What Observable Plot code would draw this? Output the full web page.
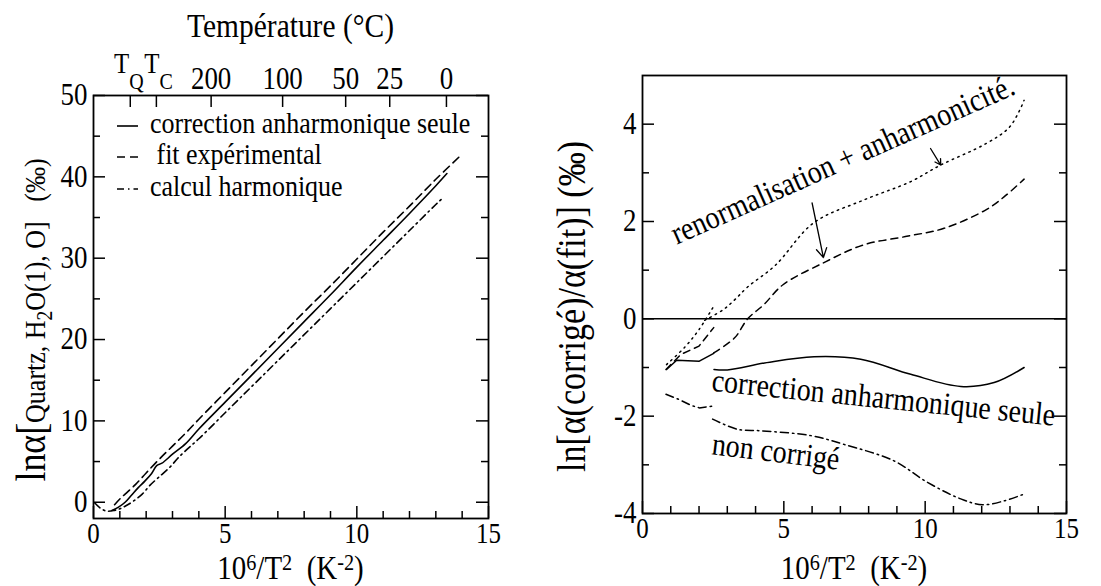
<!DOCTYPE html>
<html><head><meta charset="utf-8">
<script src="https://cdn.jsdelivr.net/npm/d3@7"></script>
<script src="https://cdn.jsdelivr.net/npm/@observablehq/plot@0.6"></script>
<style>
body{margin:0;background:#fff;}
#wrap{position:relative;width:1101px;height:586px;overflow:hidden;background:#fff;}
#left{position:absolute;left:0;top:0;width:550px;height:586px;}
#right{position:absolute;left:550px;top:0;width:551px;height:586px;}
</style></head><body>
<div id="wrap"><div id="left"></div><div id="right"></div></div>
<script>
// ---------- LEFT PANEL DATA (x = 10^6/T^2, y = ln alpha, per mil) ----------
const leftSolidX  = [0.70,0.95,1.20,1.45,1.70,1.95,2.20,2.40,2.60,3.00,3.50,4.00,5,6,7,8,9,10,11,12,13,13.42];
const leftSolidY  = [-1.0,-0.6,0.0,0.9,1.8,2.6,3.5,4.5,4.8,5.9,7.2,9.0,12.3,15.6,18.9,22.2,25.5,28.9,32.2,35.5,38.9,40.4];
const leftDashX   = [0.80,1.00,1.20,1.60,2.00,2.50,3.00,3.50,4.00,5,6,7,8,9,10,11,12,13,14];
const leftDashY   = [-0.3,0.4,1.0,2.2,3.6,5.3,6.9,8.5,10.2,13.5,16.8,20.1,23.4,26.6,29.9,33.2,36.4,39.7,42.8];
const leftDotDashX = [0.05,0.25,0.50,0.80,1.00,1.20,1.50,1.85,2.15,2.45,2.90,3.20,3.55,4.00,5,6,7,8,9,10,11,12,13,13.23];
const leftDotDashY = [-0.1,-0.7,-1.1,-1.0,-0.8,-0.5,0.1,1.0,2.1,3.0,4.3,5.4,6.5,7.8,11.0,14.2,17.4,20.6,23.8,27.0,30.2,33.4,36.6,37.3];
const legendNames = ["correction anharmonique seule", " fit expérimental", "calcul harmonique"];
const topTemps   = [573, 374, 200, 100, 50, 25, 0];
const topMain    = ["T", "T", "200", "100", "50", "25", "0"];
const topSub     = ["Q", "C", "", "", "", "", ""];
const leftXTicks = [0, 5, 10, 15];
const leftXMinor = [1,2,3,4,6,7,8,9,11,12,13,14];
const leftYTicks = [0, 10, 20, 30, 40, 50];
const leftYMinor = [5, 15, 25, 35, 45];

// ---------- RIGHT PANEL DATA ----------
const rSolid1X = [0.85,1.21,2.01,2.52];
const rSolid1Y = [-1.04,-0.85,-0.87,-0.71];
const rSolid2X = [2.53,3.0,4.4,6.07,7.72,9.49,11.26,12.44,13.5];
const rSolid2Y = [-1.04,-1.05,-0.9,-0.78,-0.83,-1.14,-1.39,-1.31,-1.0];
const rDash1X = [0.83,1.36,2.0,2.52];
const rDash1Y = [-1.04,-0.73,-0.56,-0.18];
const rDash2X = [2.52,3.26,3.72,4.29,4.97,6.4,7.82,9.3,10.67,12.15,12.8,13.5];
const rDash2Y = [-0.7,-0.39,0.0,0.29,0.7,1.15,1.52,1.69,1.86,2.24,2.51,2.87];
const rDot1X = [0.85,1.5,2.0,2.52];
const rDot1Y = [-0.94,-0.58,-0.22,0.26];
const rDot2X = [2.2,2.86,3.26,3.71,4.7,6.05,7.82,9.49,10.55,12.15,13.0,13.5];
const rDot2Y = [-0.03,0.19,0.39,0.65,1.1,1.97,2.44,2.82,3.16,3.6,3.95,4.49];
const rDD1X = [0.83,1.3,1.73,2.01,2.52];
const rDD1Y = [-1.55,-1.66,-1.78,-1.83,-1.79];
const rDD2X = [2.48,3.36,4.19,5.96,7.13,8.9,10.08,11.26,12.03,12.8,13.5];
const rDD2Y = [-2.06,-2.27,-2.3,-2.4,-2.58,-2.92,-3.36,-3.7,-3.82,-3.74,-3.6];
const annText = ["renormalisation + anharmonicité.", "correction anharmonique seule", "non corrigé"];
const annX = [1.21, 2.42, 2.42];
const annY = [1.52, -1.48, -2.78];
const annRot = [-24, 5.8, 7];
const arrowX1 = [6.0, 10.19], arrowY1 = [2.38, 3.5], arrowX2 = [6.4, 10.55], arrowY2 = [1.26, 3.16];
const rightXTicks = [0, 5, 10, 15];
const rightXMinor = [1,2,3,4,6,7,8,9,11,12,13,14];
const rightYTicks = [-4, -2, 0, 2, 4];
const rightYMinor = [-3, -1, 1, 3];

// ---------- helpers ----------
const FONT = "'Liberation Serif','Times New Roman',serif";
const K = 1.15;                 // reference glyphs are taller than wide Times: enlarge, then squeeze along the line
const fs = v => +(v * K).toFixed(1);
const pts = (xs, ys) => xs.map((x, i) => ({x, y: ys[i]}));
function rich(svg, x, y, rotate, size, parts, anchor = "middle") {
  const t = d3.select(svg).append("text")
    .attr("transform", `translate(${x},${y}) rotate(${rotate})`)
    .attr("text-anchor", anchor).attr("font-family", FONT).attr("font-size", size)
    .attr("fill", "black").style("white-space", "pre");
  let cur = 0;
  for (const [s, scale, shift] of parts) {
    t.append("tspan").attr("font-size", size * scale).attr("dy", cur - shift).text(s);
    cur = shift;
  }
}
function squeeze(svg) {
  d3.select(svg).selectAll("text").each(function() {
    const el = d3.select(this);
    let tr = el.attr("transform") || "";
    const xa = el.attr("x");
    if (xa != null && xa !== "" && !isNaN(+xa)) { tr += ` translate(${+xa},0)`; el.attr("x", null); }
    el.attr("transform", tr + ` scale(${(1 / K).toFixed(4)},1)`);
  });
}
function tickMarks(xMaj, xMin, yMaj, yMin, fw, fh) {
  return [
    Plot.ruleX(xMaj, {x: d => d, insetTop: fh - 12, strokeWidth: 1.5}),
    Plot.ruleX(xMin, {x: d => d, insetTop: fh - 7, strokeWidth: 1.5}),
    Plot.ruleY(yMaj, {y: d => d, insetRight: fw - 12, strokeWidth: 1.5}),
    Plot.ruleY(yMin, {y: d => d, insetRight: fw - 7, strokeWidth: 1.5}),
    Plot.ruleY(yMaj, {y: d => d, insetLeft: fw - 12, strokeWidth: 1.5}),
    Plot.ruleY(yMin, {y: d => d, insetLeft: fw - 7, strokeWidth: 1.5})
  ];
}
const dashed = "8,5", dashdot = "7,4,1.5,4", dotted = "1.5,4.5";
const xTitle = [["10",1,0],["6",0.7,9],["/T",1,0],["2",0.7,9],["  (K",1,0],["-2",0.7,9],[")",1,0]];

// ---------- LEFT PLOT ----------
const LW = 550, LH = 586, Lm = {l: 93, r: 62, t: 95, b: 68};
const Lfw = LW - Lm.l - Lm.r, Lfh = LH - Lm.t - Lm.b;
const topData = topTemps.map((t, i) => ({x: 1e6 / ((t + 273.15) ** 2), main: topMain[i], sub: topSub[i]}));
const symbolLabel = (d, shift) => [
  Plot.text([d], {x: "x", frameAnchor: "top", text: "main", lineAnchor: "bottom", textAnchor: "end", dx: shift, dy: -23, fontSize: fs(25)}),
  Plot.text([d], {x: "x", frameAnchor: "top", text: "sub", lineAnchor: "bottom", textAnchor: "start", dx: shift, dy: -7, fontSize: fs(20)})
];
const left = Plot.plot({
  width: LW, height: LH,
  marginLeft: Lm.l, marginRight: Lm.r, marginTop: Lm.t, marginBottom: Lm.b,
  x: {domain: [0, 15]}, y: {domain: [-2, 50]},
  style: {fontFamily: FONT, fontSize: fs(27) + "px", color: "black", background: "white", overflow: "visible"},
  marks: [
    ...tickMarks(leftXTicks, leftXMinor, leftYTicks, leftYMinor, Lfw, Lfh),
    Plot.ruleX(topData, {x: "x", insetBottom: Lfh - 12, strokeWidth: 1.5}),
    Plot.line(pts(leftSolidX, leftSolidY), {x: "x", y: "y", stroke: "black", strokeWidth: 1.6, curve: "catmull-rom"}),
    Plot.line(pts(leftDashX, leftDashY), {x: "x", y: "y", stroke: "black", strokeWidth: 1.6, strokeDasharray: dashed, curve: "catmull-rom"}),
    Plot.line(pts(leftDotDashX, leftDotDashY), {x: "x", y: "y", stroke: "black", strokeWidth: 1.6, strokeDasharray: dashdot, curve: "catmull-rom"}),
    Plot.axisX(leftXTicks, {tickSize: 0, tickPadding: 4, fontSize: fs(25), tickFormat: d => String(d), label: null}),
    Plot.axisY(leftYTicks, {tickSize: 0, tickPadding: 6, tickFormat: d => String(d), label: null}),
    Plot.text(topData.filter(d => d.sub === ""), {x: "x", frameAnchor: "top", text: "main", lineAnchor: "bottom", dy: -7, fontSize: fs(27)}),
    ...symbolLabel(topData[0], -1),
    ...symbolLabel(topData[1], 3),
    Plot.frame({stroke: "black", strokeWidth: 1.8})
  ]
});
document.getElementById("left").appendChild(left);
rich(left, 290.5, 37, 0, fs(29.5), [["Température (°C)", 1, 0]]);
rich(left, 290.5, 579, 0, fs(29), xTitle);
rich(left, 45, 320, -90, fs(26), [["lnα[",1.38,0],["Quartz, H",1,0],["2",0.75,-7],["O(1), O]   (‰)",1,0]]);
// legend
const legDash = [null, dashed, dashdot];
const legY = [126, 157, 189];
legendNames.forEach((name, i) => {
  const g = d3.select(left);
  g.append("line").attr("x1", 117).attr("x2", 138).attr("y1", legY[i]).attr("y2", legY[i])
    .attr("stroke", "black").attr("stroke-width", 1.6).attr("stroke-dasharray", legDash[i]);
  g.append("text").attr("x", 150).attr("y", legY[i] + 7).attr("text-anchor", "start")
    .attr("font-family", FONT).attr("font-size", fs(26))
    .style("white-space", "pre").attr("fill", "black").text(name);
});
squeeze(left);

// ---------- RIGHT PLOT ----------
const RW = 551, RH = 586, Rm = {l: 92, r: 35, t: 75, b: 73};
const Rfw = RW - Rm.l - Rm.r, Rfh = RH - Rm.t - Rm.b;
const ann = annText.map((t, i) => ({t, x: annX[i], y: annY[i], r: annRot[i]}));
const arrows = arrowX1.map((x1, i) => ({x1, y1: arrowY1[i], x2: arrowX2[i], y2: arrowY2[i]}));
const lineOpts = (dash, curve) => ({x: "x", y: "y", stroke: "black", strokeWidth: 1.5, strokeDasharray: dash, curve});
const right = Plot.plot({
  width: RW, height: RH,
  marginLeft: Rm.l, marginRight: Rm.r, marginTop: Rm.t, marginBottom: Rm.b,
  x: {domain: [0, 15]}, y: {domain: [-4, 5]},
  style: {fontFamily: FONT, fontSize: fs(27) + "px", color: "black", background: "white", overflow: "visible"},
  marks: [
    ...tickMarks(rightXTicks, rightXMinor, rightYTicks, rightYMinor, Rfw, Rfh),
    Plot.ruleY([0], {stroke: "black", strokeWidth: 1.5}),
    Plot.line(pts(rSolid1X, rSolid1Y), lineOpts(null, "linear")),
    Plot.line(pts(rSolid2X, rSolid2Y), lineOpts(null, "catmull-rom")),
    Plot.line(pts(rDash1X, rDash1Y), lineOpts("7,5", "linear")),
    Plot.line(pts(rDash2X, rDash2Y), lineOpts("7,5", "catmull-rom")),
    Plot.line(pts(rDot1X, rDot1Y), lineOpts(dotted, "catmull-rom")),
    Plot.line(pts(rDot2X, rDot2Y), lineOpts(dotted, "catmull-rom")),
    Plot.line(pts(rDD1X, rDD1Y), lineOpts("8,4,1.5,4", "linear")),
    Plot.line(pts(rDD2X, rDD2Y), lineOpts("8,4,1.5,4", "catmull-rom")),
    Plot.text(ann, {x: "x", y: "y", text: "t", rotate: "r", textAnchor: "start", lineAnchor: "bottom", fontSize: fs(28)}),
    Plot.arrow(arrows, {x1: "x1", y1: "y1", x2: "x2", y2: "y2", stroke: "black", strokeWidth: 1.3, headLength: 12}),
    Plot.axisX(rightXTicks, {tickSize: 0, tickPadding: 4, fontSize: fs(25), tickFormat: d => String(d), label: null}),
    Plot.axisY(rightYTicks, {tickSize: 0, tickPadding: 6, tickFormat: d => String(d), label: null}),
    Plot.frame({stroke: "black", strokeWidth: 1.8})
  ]
});
document.getElementById("right").appendChild(right);
rich(right, 304, 579, 0, fs(29), xTitle);
rich(right, 35, 306.5, -90, fs(34), [["ln[α(corrigé)/α(fit)] (‰)", 1, 0]]);
squeeze(right);
</script>
</body></html>
